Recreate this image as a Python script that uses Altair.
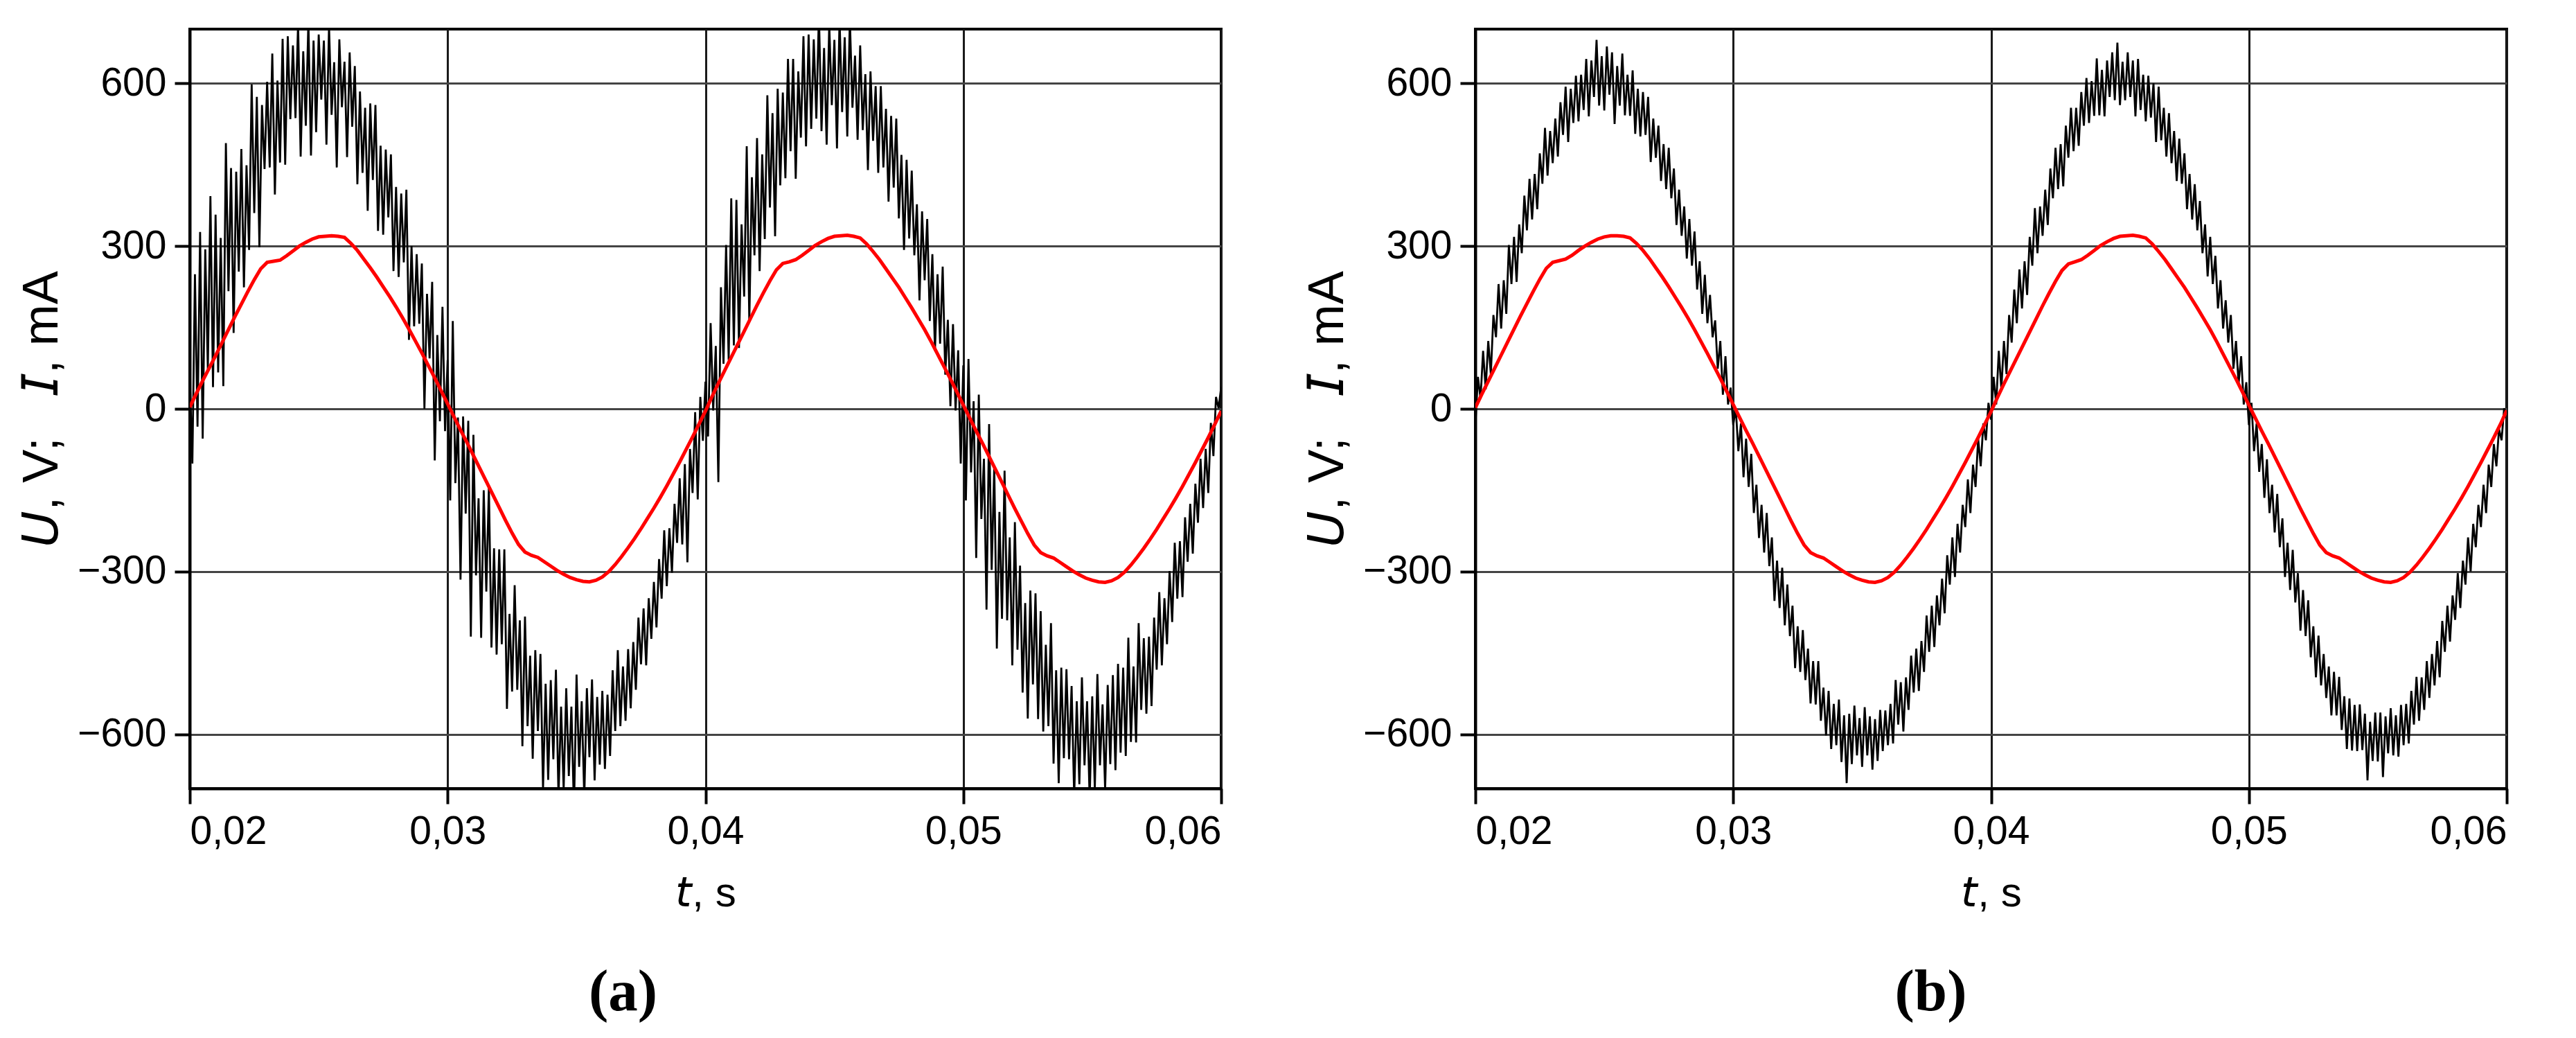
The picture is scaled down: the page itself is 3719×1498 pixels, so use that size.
import altair as alt
import pandas as pd

# sampling grid (s)
T0 = 0.02
DT_U = 0.0001     # voltage samples
DT_I = 0.00025    # current samples

X_TICKS = [0.02, 0.03, 0.04, 0.05, 0.06]
Y_TICKS = [-600, -300, 0, 300, 600]

# panel (a) voltage U, V  (0.1 ms steps)
u_a = [
    60, -101, 248, -33, 326, -55, 294, 73, 392, 40,
    358, 67, 315, 42, 490, 217, 444, 140, 437, 253,
    479, 224, 449, 293, 598, 361, 575, 298, 560, 442,
    603, 445, 655, 395, 605, 454, 682, 450, 687, 534,
    670, 536, 711, 465, 659, 522, 715, 467, 679, 510,
    690, 570, 679, 487, 705, 542, 639, 445, 681, 556,
    640, 464, 657, 520, 632, 414, 585, 435, 555, 365,
    563, 422, 560, 328, 485, 321, 478, 353, 469, 254,
    409, 243, 397, 270, 404, 127, 300, 152, 285, 157,
    268, 0, 212, 93, 234, -95, 136, -23, 188, -41,
    90, -169, 162, -137, -16, -315, -14, -193, -22, -420,
    -48, -307, -165, -422, -150, -337, -144, -440, -257, -453,
    -259, -434, -259, -553, -378, -521, -325, -518, -390, -622,
    -383, -585, -455, -645, -445, -594, -452, -700, -507, -684,
    -500, -646, -481, -715, -549, -702, -515, -677, -549, -740,
    -490, -660, -539, -717, -515, -642, -499, -685, -531, -656,
    -520, -664, -527, -640, -482, -594, -445, -585, -475, -575,
    -443, -552, -430, -518, -385, -471, -368, -473, -349, -424,
    -319, -403, -277, -350, -224, -327, -220, -302, -175, -247,
    -128, -250, -102, -283, -74, -155, -6, -167, 22, -59,
    50, -51, 158, -3, 116, -135, 224, 83, 302, 90,
    388, 117, 385, 112, 340, 207, 484, 160, 427, 283,
    499, 254, 469, 313, 578, 371, 545, 318, 590, 412,
    583, 425, 645, 475, 645, 424, 622, 500, 687, 484,
    690, 516, 681, 535, 729, 512, 665, 487, 709, 560,
    680, 480, 719, 547, 685, 502, 719, 555, 651, 496,
    670, 514, 617, 440, 622, 494, 595, 435, 595, 445,
    553, 382, 540, 408, 535, 351, 468, 293, 459, 314,
    439, 283, 377, 200, 364, 237, 350, 162, 285, 107,
    248, 120, 262, 63, 164, 5, 156, -3, 108, -101,
    80, -169, 92, -117, 14, -275, 26, -203, -92, -370,
    -28, -297, -105, -442, -190, -387, -114, -390, -237, -473,
    -209, -444, -289, -523, -358, -571, -335, -508, -340, -572,
    -373, -595, -435, -585, -395, -654, -482, -690, -477, -644,
    -480, -646, -511, -715, -539, -692, -495, -657, -539, -720,
    -530, -700, -489, -657, -545, -702, -509, -655, -491, -666,
    -470, -634, -477, -640, -422, -614, -475, -615, -395, -555,
    -423, -562, -420, -548, -385, -481, -338, -473, -349, -434,
    -299, -393, -247, -350, -244, -347, -200, -282, -175, -267,
    -138, -210, -92, -183, -74, -155, -26, -87, 22, 1,
    40,
]

# panel (b) voltage U, V
u_b = [
    -30, 59, 18, 107, 36, 125, 64, 173, 132, 230,
    148, 237, 175, 302, 230, 317, 234, 340, 287, 393,
    329, 424, 349, 433, 368, 471, 415, 518, 430, 512,
    453, 535, 465, 565, 505, 594, 492, 590, 527, 614,
    530, 616, 551, 645, 539, 642, 575, 680, 559, 650,
    550, 668, 579, 657, 525, 632, 559, 655, 541, 616,
    540, 624, 507, 590, 502, 584, 505, 575, 455, 535,
    463, 522, 420, 488, 405, 481, 388, 443, 339, 404,
    319, 373, 277, 350, 264, 327, 220, 272, 175, 247,
    158, 210, 132, 163, 74, 125, 26, 97, 8, 39,
    -30, 1, -78, -27, -126, -55, -144, -83, -192, -140,
    -238, -177, -265, -192, -290, -237, -354, -280, -367, -293,
    -399, -324, -419, -363, -478, -401, -485, -408, -500, -442,
    -543, -465, -545, -465, -575, -514, -602, -520, -627, -544,
    -620, -536, -651, -565, -690, -562, -655, -547, -639, -570,
    -660, -550, -639, -567, -665, -572, -649, -555, -631, -556,
    -620, -544, -617, -500, -582, -504, -595, -495, -555, -455,
    -523, -442, -520, -428, -485, -381, -448, -363, -439, -344,
    -399, -313, -377, -270, -324, -237, -310, -212, -265, -177,
    -218, -130, -192, -103, -144, -55, -106, -27, -58, 11,
    -20, 59, 8, 107, 36, 125, 64, 173, 122, 220,
    158, 257, 185, 272, 210, 317, 264, 370, 287, 373,
    319, 404, 339, 443, 388, 481, 405, 488, 410, 522,
    463, 555, 475, 555, 485, 584, 522, 610, 527, 604,
    540, 646, 541, 625, 539, 642, 575, 657, 569, 675,
    560, 640, 569, 657, 575, 642, 539, 645, 551, 616,
    530, 614, 537, 600, 492, 594, 495, 555, 465, 545,
    453, 512, 420, 498, 415, 471, 368, 433, 349, 414,
    329, 383, 287, 340, 244, 317, 230, 282, 185, 237,
    148, 200, 122, 173, 74, 125, 46, 97, 8, 49,
    -30, 11, -78, -27, -116, -65, -164, -93, -192, -140,
    -228, -157, -255, -202, -310, -247, -334, -260, -357, -303,
    -409, -334, -419, -353, -458, -401, -495, -418, -510, -452,
    -533, -475, -565, -485, -565, -494, -592, -530, -627, -534,
    -630, -546, -631, -545, -629, -562, -685, -577, -649, -560,
    -650, -560, -679, -567, -635, -552, -639, -565, -641, -546,
    -620, -544, -617, -520, -582, -494, -575, -495, -555, -465,
    -533, -452, -510, -428, -495, -391, -448, -363, -429, -344,
    -389, -303, -367, -280, -324, -237, -300, -212, -255, -177,
    -218, -140, -192, -103, -144, -65, -106, -37, -58, 1,
    -10,
]

# current I, mA (0.25 ms steps), panels (a) and (b)
i_a = [
    3, 28, 52, 75, 98, 122, 146, 170, 193, 216,
    238, 258, 270, 272, 274, 282, 291, 300, 307, 313,
    317, 318, 319, 318, 316, 305, 292, 276, 260, 243,
    225, 207, 188, 168, 147, 125, 103, 80, 57, 33,
    9, -15, -39, -62, -86, -110, -134, -158, -182, -206,
    -229, -250, -264, -270, -274, -282, -290, -298, -305, -311,
    -315, -318, -319, -316, -310, -300, -287, -272, -256, -239,
    -221, -202, -183, -163, -142, -120, -98, -75, -52, -28,
    -4, 22, 47, 71, 95, 119, 143, 167, 191, 214,
    236, 256, 268, 271, 275, 283, 292, 301, 308, 314,
    318, 319, 320, 318, 315, 304, 290, 275, 258, 241,
    224, 205, 186, 166, 146, 124, 101, 78, 55, 31,
    7, -17, -41, -64, -88, -112, -136, -160, -184, -207,
    -230, -251, -265, -271, -275, -283, -291, -299, -306, -312,
    -316, -319, -320, -317, -311, -301, -288, -273, -257, -240,
    -222, -203, -184, -164, -143, -121, -99, -76, -53, -29,
    -4,
]
i_b = [
    2, 27, 51, 75, 99, 123, 147, 171, 194, 217,
    239, 259, 270, 273, 276, 283, 292, 300, 307, 313,
    317, 319, 319, 318, 315, 305, 292, 277, 260, 243,
    225, 206, 187, 167, 146, 124, 102, 79, 56, 32,
    8, -16, -40, -63, -87, -111, -135, -159, -183, -207,
    -230, -251, -265, -271, -275, -283, -291, -299, -306, -312,
    -316, -319, -320, -317, -311, -301, -288, -273, -257, -240,
    -222, -203, -184, -164, -143, -121, -99, -76, -53, -29,
    -5, 21, 46, 70, 94, 118, 142, 166, 190, 213,
    235, 255, 267, 271, 275, 283, 292, 301, 308, 314,
    318, 319, 320, 318, 315, 304, 290, 275, 258, 241,
    224, 205, 186, 166, 146, 124, 101, 78, 55, 31,
    7, -17, -41, -64, -88, -112, -136, -160, -184, -207,
    -230, -251, -265, -271, -275, -283, -291, -299, -306, -312,
    -316, -319, -320, -317, -311, -301, -288, -273, -257, -240,
    -222, -203, -184, -164, -143, -121, -99, -76, -53, -29,
    -3,
]

NB = "\u00a0"
X_TITLE = "\U0001D635," + NB + "s"
Y_TITLE = "\U0001D61C," + NB + "V;" + NB * 3 + "\U0001D610," + NB + "mA"
SANS = "Liberation Sans, Arial, sans-serif"


def frame(vals, dt):
    return pd.DataFrame({"t": [round(T0 + dt * k, 6) for k in range(len(vals))], "v": vals})


def panel(u, i, caption, dx):
    x = alt.X(
        "t:Q",
        scale=alt.Scale(domain=[0.02, 0.06], nice=False, zero=False),
        axis=alt.Axis(
            values=X_TICKS,
            labelExpr="replace(format(datum.value, '.2f'), '.', ',')",
            title=X_TITLE,
            gridColor="#1a1a1a",
            labelPadding=12,
            titlePadding=32,
            titleFontSize=60,
        ),
    )
    y = alt.Y(
        "v:Q",
        scale=alt.Scale(domain=[-700, 700], nice=False, zero=False),
        axis=alt.Axis(
            values=Y_TICKS,
            title=Y_TITLE,
            gridColor="#444444",
            labelPadding=12,
            titlePadding=14,
            titleFontSize=72,
        ),
    )
    black = alt.Chart(frame(u, DT_U)).mark_line(
        color="black", strokeWidth=2.8, clip=True
    ).encode(x=x, y=y)
    red = alt.Chart(frame(i, DT_I)).mark_line(
        color="#ff0000", strokeWidth=5, clip=True
    ).encode(x=x, y=y)
    return alt.layer(black, red).properties(
        width=1489,
        height=1096,
        title=alt.TitleParams(
            caption,
            orient="bottom",
            frame="group",
            anchor="middle",
            dx=dx,
            offset=72,
            font="Liberation Serif, Times New Roman, serif",
            fontSize=85,
            fontWeight="bold",
            color="black",
        ),
    )


pa = panel(u_a, i_a, "(a)", -119)
pb = panel(u_b, i_b, "(b)", -87)

chart = (
    alt.hconcat(pa, pb, spacing=111)
    .properties(padding={"left": 14, "top": 32, "right": 10, "bottom": 10},
                background="white")
    .configure_view(stroke="black", strokeWidth=4)
    .configure_axis(
        grid=True,
        gridWidth=3,
        gridOpacity=1,
        domainColor="black",
        domainWidth=4,
        tickColor="black",
        tickWidth=4,
        tickSize=22,
        labelFont=SANS,
        labelFontSize=57,
        labelColor="black",
        titleFont=SANS,
        titleFontWeight="normal",
        titleColor="black",
    )
)

chart.save("out.html", embed_options={"renderer": "svg", "actions": False})
